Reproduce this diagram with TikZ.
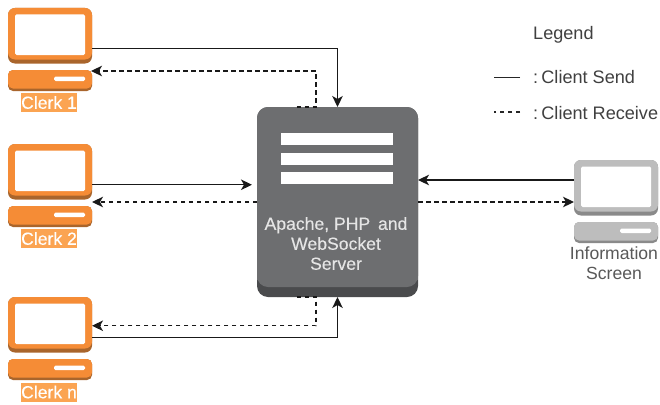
\documentclass[tikz,border=0pt]{standalone}
\usepackage{fontspec}
\setmainfont{Liberation Sans}
\newfontfamily\heavyfont[FakeBold=0.25]{Liberation Sans}
\usetikzlibrary{arrows.meta,calc}
\definecolor{org}{HTML}{F58C36}
\definecolor{orgd}{HTML}{A9652C}
\definecolor{orgl}{HTML}{FBA452}
\definecolor{gry}{HTML}{BDBDBD}
\definecolor{gryd}{HTML}{8A8A8A}
\definecolor{srv}{HTML}{6D6E70}
\definecolor{srvd}{HTML}{4A4B4D}
\tikzset{
  x=1pt,y=-1pt,
  part/.style={inner sep=0pt,outer sep=0pt,rounded corners=#1,anchor=north west},
  part/.default=5pt,
  lbl/.style={font=\fontsize{17.6}{20}\selectfont,align=center,inner sep=0pt},
  lgd/.style={font=\fontsize{18.1}{20}\selectfont,text=black!75,anchor=west,inner sep=0pt},
  send/.style={draw=black!90,line width=1.2pt,-{Stealth[length=11pt,width=10.5pt,inset=3pt]}},
  recv/.style={draw=black!90,line width=1.2pt,dash pattern=on 4.5pt off 3.5pt,-{Stealth[length=11pt,width=10.5pt,inset=3pt]}},
  plainsend/.style={draw=black!85,line width=1.2pt},
  plainrecv/.style={draw=black!85,line width=1.2pt,dash pattern=on 4.5pt off 3.5pt},
}
% name, left x, top y, width, main colour, shadow colour
\newcommand{\pcicon}[6]{%
  \node[part=7pt,fill=#6,minimum width=#4,minimum height=55.5pt] (#1) at (#2,#3) {};
  \fill[#5,rounded corners=7pt] (#2,#3) rectangle ++(#4,51.5);
  \fill[white,rounded corners=1.5pt] ($(#2,#3)+(7,6.5)$) rectangle ($(#2,#3)+(#4-7,47)$);
  \node[part=5pt,fill=#6,minimum width=#4,minimum height=21pt] (#1b) at ($(#2,#3)+(0,62)$) {};
  \fill[#5,rounded corners=5pt] ($(#2,#3)+(0,62)$) rectangle ($(#2,#3)+(#4,80.5)$);
  \fill[white,rounded corners=1.5pt] ($(#2,#3)+(#4-38,68.5)$) rectangle ($(#2,#3)+(#4-7,73)$);
}
\begin{document}
\begin{tikzpicture}
\useasboundingbox (0,0) rectangle (660,404);
\fill[white] (0,0) rectangle (660,404);

\pcicon{c1}{8}{8}{84}{org}{orgd}
\pcicon{c2}{8}{144}{84}{org}{orgd}
\pcicon{cn}{8}{297}{84}{org}{orgd}
\pcicon{info}{574}{160}{84}{gry}{gryd}

\node[lbl,fill=orgl,text=white,minimum width=56pt,minimum height=19pt] (l1) at (49,102.5) {\heavyfont Clerk 1};
\node[lbl,fill=orgl,text=white,minimum width=56pt,minimum height=19pt] (l2) at (49,238.5) {\heavyfont Clerk 2};
\node[lbl,fill=orgl,text=white,minimum width=56pt,minimum height=19pt] (ln) at (49,392) {\heavyfont Clerk n};
\node[lbl,text=black!65,anchor=north] (il) at (614,246.5) {Information\\Screen};

% server
\node[part=11pt,fill=srvd,minimum width=161pt,minimum height=190pt] (srv) at (257,107) {};
\fill[srv,rounded corners=11pt] (257,107) rectangle (418,287);
\fill[srv] (257,270) rectangle (418,280);
\foreach \yy in {133,153,172}
  \fill[white] (281,\yy) rectangle (393,\yy+12);
\node[lbl,text=white!90!black] (st) at (336,243.5) {\heavyfont Apache, PHP\, and\\\heavyfont WebSocket\\\heavyfont Server};

% connectors
\draw[send] ([yshift=-13pt]c1.east) -| (srv.north);
\draw[recv] ([xshift=-41pt]srv.north) -- ([xshift=-21.5pt]srv.north) |- ([yshift=9.5pt,xshift=-1pt]c1b.east);
\draw[send] ([yshift=-13pt]c2.east) -- ([xshift=-5pt,yshift=-13pt]c2.east -| srv.west);
\draw[recv] (srv.west |- 0,202) -- (c2b.east |- 0,202);
\draw[recv] ([xshift=-41pt]srv.south) -- ([xshift=-21.5pt]srv.south) |- ([yshift=-1pt]cn.east);
\draw[send] ([yshift=-13pt]cn.east) -| (srv.south);
\draw[send] (info.west |- 0,180) -- (srv.east |- 0,180);
\draw[recv] (srv.east |- 0,202) -- (info.west |- 0,202);

% legend
\node[lgd] (lg) at (533,35) {Legend};
\node[lgd] (ls) at (533,77.5) {:\hspace{3.2pt}Client Send};
\node[lgd] (lr) at (533,113.5) {:\hspace{3.2pt}Client Receive};
\draw[plainsend] ([xshift=-13pt]ls.west) -- ++(-26,0);
\draw[plainrecv] ([xshift=-13pt,yshift=1.5pt]lr.west) -- ++(-26,0);
\end{tikzpicture}
\end{document}
